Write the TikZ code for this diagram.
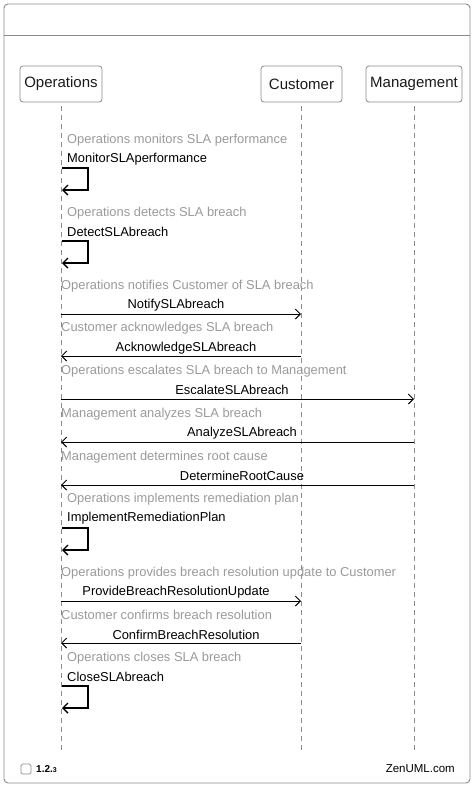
\documentclass[tikz,border=0pt]{standalone}
\usepackage{fontspec}
\setmainfont{Liberation Sans}
\usetikzlibrary{arrows.meta}
\definecolor{frame}{HTML}{8A8A8A}
\definecolor{note}{HTML}{9A9A9A}
\definecolor{life}{HTML}{8C8C8C}
\tikzset{
  actor/.style={draw=frame, rounded corners=3pt, line width=0.8pt, minimum height=36pt, inner xsep=3pt, font=\fontsize{15}{17}\selectfont, text=black!90},
  lifeline/.style={draw=life, dashed, dash pattern=on 5pt off 4pt, line width=0.8pt},
  cmt/.style={text=note, font=\fontsize{12.9}{14}\selectfont, anchor=west, inner sep=0pt},
  msg/.style={text=black, font=\fontsize{12.9}{14}\selectfont, inner sep=0pt},
  arr/.style={draw=black, line width=1pt, -{Straight Barb[length=5pt,width=10pt,line width=1pt]}},
  loop/.style={draw=black, line width=1.4pt, -{Straight Barb[length=5pt,width=10pt,line width=1.4pt]}}
}
\begin{document}
\begin{tikzpicture}[x=1pt,y=-1pt]
\useasboundingbox (0,0) rectangle (474,788);
\draw[frame, line width=0.9pt, rounded corners=4pt] (4,4) rectangle (470,783);
\draw[frame, line width=0.9pt] (4,35) -- (470,35);
% actors
\node[actor, minimum width=82pt] (ops) at (61,84) {Operations};
\node[actor, minimum width=81pt] (cus) at (301.5,84) {Customer};
\node[actor, minimum width=96pt] (man) at (414,84) {Management};
\coordinate (opsE) at (61,750);
\coordinate (cusE) at (301.5,750);
\coordinate (manE) at (414,750);
\draw[lifeline] (ops.south) ++(0,4) -- (opsE);
\draw[lifeline] (cus.south) ++(0,4) -- (cusE);
\draw[lifeline] (man.south) ++(0,4) -- (manE);
% 1
\node[cmt] (c1) at (67,140) {Operations monitors SLA performance};
\node[msg, anchor=west] (m1) at (67,159) {MonitorSLAperformance};
\coordinate (l1a) at (62,168); \coordinate (l1b) at (62,190);
\draw[loop] (l1a) -- ++(26,0) |- (l1b);
% 2
\node[cmt] (c2) at (67,213) {Operations detects SLA breach};
\node[msg, anchor=west] (m2) at (67,232) {DetectSLAbreach};
\coordinate (l2a) at (62,241); \coordinate (l2b) at (62,263);
\draw[loop] (l2a) -- ++(26,0) |- (l2b);
% 3
\node[cmt] (c3) at (61,286) {Operations notifies Customer of SLA breach};
\node[msg] (m3) at (176,305) {NotifySLAbreach};
\coordinate (a3s) at (61,314); \coordinate (a3e) at (301,314);
\draw[arr] (a3s) -- (a3e);
% 4
\node[cmt] (c4) at (61,328) {Customer acknowledges SLA breach};
\node[msg] (m4) at (186,348) {AcknowledgeSLAbreach};
\coordinate (a4s) at (301,356); \coordinate (a4e) at (61,356);
\draw[arr] (a4s) -- (a4e);
% 5
\node[cmt] (c5) at (61,371) {Operations escalates SLA breach to Management};
\node[msg] (m5) at (232,390) {EscalateSLAbreach};
\coordinate (a5s) at (61,399); \coordinate (a5e) at (414,399);
\draw[arr] (a5s) -- (a5e);
% 6
\node[cmt] (c6) at (61,414) {Management analyzes SLA breach};
\node[msg] (m6) at (242,433) {AnalyzeSLAbreach};
\coordinate (a6s) at (414,442); \coordinate (a6e) at (61,442);
\draw[arr] (a6s) -- (a6e);
% 7
\node[cmt] (c7) at (61,457) {Management determines root cause};
\node[msg] (m7) at (242,476) {DetermineRootCause};
\coordinate (a7s) at (414,485); \coordinate (a7e) at (61,485);
\draw[arr] (a7s) -- (a7e);
% 8
\node[cmt] (c8) at (67,499) {Operations implements remediation plan};
\node[msg, anchor=west] (m8) at (67,518) {ImplementRemediationPlan};
\coordinate (l8a) at (62,528); \coordinate (l8b) at (62,550);
\draw[loop] (l8a) -- ++(26,0) |- (l8b);
% 9
\node[cmt] (c9) at (61,573) {Operations provides breach resolution update to Customer};
\node[msg] (m9) at (176,592) {ProvideBreachResolutionUpdate};
\coordinate (a9s) at (61,601); \coordinate (a9e) at (301,601);
\draw[arr] (a9s) -- (a9e);
% 10
\node[cmt] (c10) at (61,615) {Customer confirms breach resolution};
\node[msg] (m10) at (186,635) {ConfirmBreachResolution};
\coordinate (a10s) at (301,643); \coordinate (a10e) at (61,643);
\draw[arr] (a10s) -- (a10e);
% 11
\node[cmt] (c11) at (67,658) {Operations closes SLA breach};
\node[msg, anchor=west] (m11) at (67,677) {CloseSLAbreach};
\coordinate (l11a) at (62,686); \coordinate (l11b) at (62,708);
\draw[loop] (l11a) -- ++(26,0) |- (l11b);
% footer
\node[draw=frame, line width=0.7pt, rounded corners=1.5pt, minimum size=10pt, inner sep=0pt] (cb) at (26,769) {};
\node[anchor=west, inner sep=0pt, font=\fontsize{10}{12}\selectfont\bfseries] (ver) at (36,769) {1.2.{\fontsize{7}{8}\selectfont 3}};
\node[anchor=east, inner sep=0pt, font=\fontsize{11.5}{13}\selectfont] (zen) at (455,769) {ZenUML.com};
\end{tikzpicture}
\end{document}
